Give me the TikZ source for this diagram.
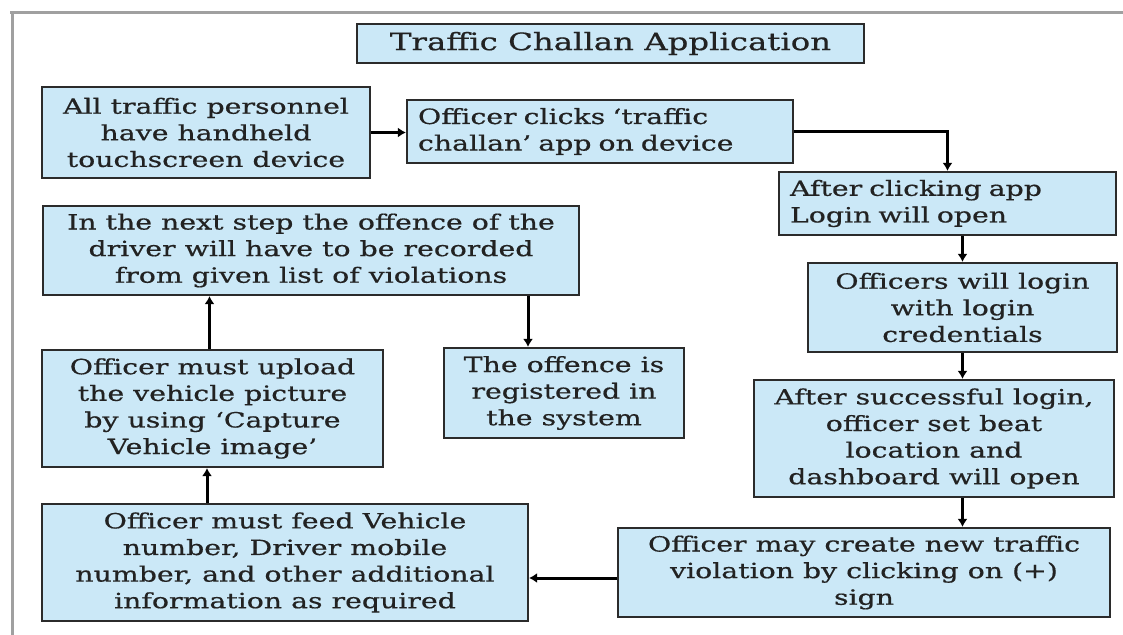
\documentclass[tikz,border=0pt]{standalone}
\usepackage{fontspec}
\setmainfont{DejaVu Serif}[FakeStretch=1.35,FakeBold=0.6]
\usetikzlibrary{arrows.meta,calc}
\definecolor{boxfill}{HTML}{CBE8F7}
\definecolor{boxline}{HTML}{2B2B2B}
\definecolor{txt}{HTML}{222222}
\definecolor{framegray}{HTML}{A0A0A0}
\begin{document}
\begin{tikzpicture}[x=0.5pt,y=-0.5pt,
  box/.style={draw=boxline, line width=1.1pt, fill=boxfill, text=txt, inner sep=0pt,
    align=center, font=\fontsize{10.5}{13.3}\selectfont},
  sz/.style 2 args={minimum width={#1*0.5pt}, minimum height={#2*0.5pt}},
  leftbox/.style={align=left, inner xsep=5.5pt, text width={#1*0.5pt}},
  flow/.style={draw=black, line width=1.5pt, -{Latex[length=4pt,width=5pt]}}]
\useasboundingbox (0,0) rectangle (1123,635);
\fill[white] (0,0) rectangle (1123,635);
\draw[framegray, line width=1.5pt] (10,13) -- (1123,13);
\draw[framegray, line width=1.5pt] (12,13) -- (12,635);

\node[box, sz={507}{39}, font=\fontsize{12}{14}\selectfont] (title) at (610.5,43.5) {Traffic Challan Application};
\node[box, sz={328}{91}] (b1) at (206,132.5) {All traffic personnel\\have handheld\\touchscreen device};
\node[box, leftbox={364}, minimum height=31.5pt] (b2) at (600,131.5) {Officer clicks ‘traffic\\challan’ app on device};
\node[box, leftbox={315}, minimum height=31.5pt] (b3) at (947.5,203.5) {After clicking app\\Login will open};
\node[box, sz={309}{89}] (b4) at (962.5,307.5) {Officers will login\\with login\\credentials};
\node[box, sz={360}{117}] (b5) at (934,438.5) {After successful login,\\officer set beat\\location and\\dashboard will open};
\node[box, sz={492}{89}] (b6) at (864,572.5) {Officer may create new traffic\\violation by clicking on (+)\\sign};
\node[box, sz={486}{117}] (b7) at (285,562.5) {Officer must feed Vehicle\\number, Driver mobile\\number, and other additional\\information as required};
\node[box, sz={341}{117}] (b8) at (212.5,408.5) {Officer must upload\\the vehicle picture\\by using ‘Capture\\Vehicle image’};
\node[box, sz={536}{89}] (b9) at (311,250.5) {In the next step the offence of the\\driver will have to be recorded\\from given list of violations};
\node[box, sz={240}{90}] (b10) at (564,393) {The offence is\\registered in\\the system};

\draw[flow] (b1.east) -- (b1.east -| b2.west);
\draw[flow] (b2.east) -| (b3.north);
\draw[flow] (b4.north |- b3.south) -- (b4.north);
\draw[flow] (b4.south) -- (b4.south |- b5.north);
\draw[flow] (b5.south -| b4.south) -- (b6.north -| b4.south);
\draw[flow] ([yshift=-2.75pt]b6.west) -- ([yshift=-2.75pt]b6.west -| b7.east);
\draw[flow] ([xshift=-2.75pt]b8.south |- b7.north) -- ([xshift=-2.75pt]b8.south);
\draw[flow] ([xshift=-1.5pt]b8.north) -- ([xshift=-1.5pt]b8.north |- b9.south);
\draw[flow] ([xshift=-18pt]b10.north |- b9.south) -- ([xshift=-18pt]b10.north);
\end{tikzpicture}
\end{document}
